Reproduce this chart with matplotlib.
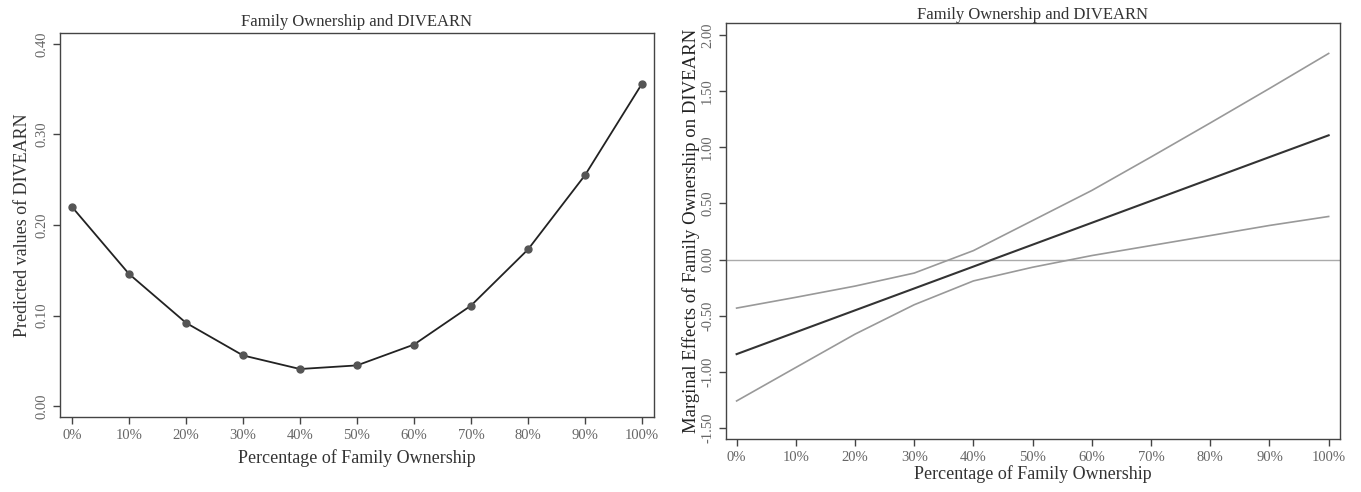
import numpy as np
import matplotlib
matplotlib.use("Agg")
import matplotlib.pyplot as plt

plt.rcParams['font.family'] = ['Liberation Serif', 'DejaVu Serif']

# 家族持株比率 (%)
pct = [0, 10, 20, 30, 40, 50, 60, 70, 80, 90, 100]
pct_labels = ["0%", "10%", "20%", "30%", "40%", "50%", "60%", "70%", "80%", "90%", "100%"]

# 左: 予測値
pred = [0.220, 0.146, 0.092, 0.056, 0.041, 0.045, 0.068, 0.111, 0.173, 0.255, 0.356]

# 右: 限界効果と信頼区間
me = [-0.842, -0.647, -0.452, -0.257, -0.062, 0.133, 0.328, 0.523, 0.718, 0.913, 1.107]
ci_hi = [-0.432, -0.336, -0.236, -0.120, 0.080, 0.348, 0.616, 0.914, 1.217, 1.524, 1.836]
ci_lo = [-1.259, -0.961, -0.664, -0.402, -0.190, -0.068, 0.036, 0.125, 0.214, 0.304, 0.384]

left_yticks = [0.0, 0.1, 0.2, 0.3, 0.4]
right_yticks = [-1.5, -1.0, -0.5, 0.0, 0.5, 1.0, 1.5, 2.0]

fig = plt.figure(figsize=(13.61, 4.92), dpi=100)
ax1 = fig.add_axes([0.0441, 0.1524, 0.4364, 0.7805])
ax2 = fig.add_axes([0.5334, 0.1077, 0.4511, 0.8455])

spine_col = "#444444"
tick_col = "#666666"

def style(ax):
    for s in ax.spines.values():
        s.set_color(spine_col)
        s.set_linewidth(1.0)
    ax.tick_params(direction="out", length=5, width=1.0, color=spine_col,
                   labelcolor=tick_col, labelsize=10.5)
    ax.set_xticks(pct)
    ax.set_xticklabels(pct_labels)
    for lab in ax.get_yticklabels():
        lab.set_rotation(90)
        lab.set_va("center")

# 左のグラフ
ax1.plot(pct, pred, color="#222222", lw=1.3, marker="o", ms=5,
         mfc="#555555", mec="#555555")
ax1.set_xlim(-2.1, 102.1)
ax1.set_ylim(-0.012, 0.412)
ax1.set_yticks(left_yticks)
ax1.set_yticklabels([f"{v:.2f}" for v in left_yticks])
style(ax1)
ax1.set_title("Family Ownership and DIVEARN", fontsize=12, color="#333333", pad=5)
ax1.set_xlabel("Percentage of Family Ownership", fontsize=13, color="#333333", labelpad=5)
ax1.set_ylabel("Predicted values of DIVEARN", fontsize=13, color="#333333", labelpad=3)

# 右のグラフ
ax2.axhline(0, color="#aaaaaa", lw=1.0)
ax2.plot(pct, ci_hi, color="#999999", lw=1.2)
ax2.plot(pct, ci_lo, color="#999999", lw=1.2)
ax2.plot(pct, me, color="#333333", lw=1.5)
ax2.set_xlim(-1.8, 101.9)
ax2.set_ylim(-1.598, 2.107)
ax2.set_yticks(right_yticks)
ax2.set_yticklabels([f"{v:.2f}" for v in right_yticks])
style(ax2)
ax2.set_title("Family Ownership and DIVEARN", fontsize=12, color="#333333", pad=2)
ax2.set_xlabel("Percentage of Family Ownership", fontsize=13, color="#333333", labelpad=1)
ax2.set_ylabel("Marginal Effects of Family Ownership on DIVEARN", fontsize=13.5,
               color="#222222", labelpad=1)

fig.savefig("out.png", dpi=100)
